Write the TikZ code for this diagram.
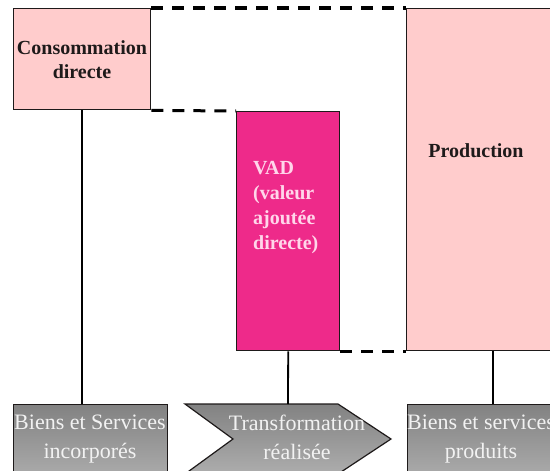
\documentclass[tikz,border=0pt]{standalone}
\usepackage{fontspec}
\setmainfont{Liberation Serif}[
  BoldFont={Liberation Serif Bold},
  ItalicFont={Liberation Serif Italic}]
\definecolor{paleRose}{HTML}{FFCCCC}
\definecolor{vadPink}{HTML}{EE2A8A}
\definecolor{vadText}{HTML}{FFD6EA}
\definecolor{edgeInk}{HTML}{1E1A1A}
\definecolor{shadeTop}{HTML}{828282}
\definecolor{shadeBot}{HTML}{ADADAD}
\definecolor{greyText}{HTML}{F2F2F2}
\begin{document}
\begin{tikzpicture}[x=1pt,y=-1pt,
  pinkbox/.style={draw=edgeInk, line width=1.4pt, fill=paleRose, inner sep=0pt, anchor=north west},
  vadbox/.style={draw=edgeInk, line width=1.4pt, fill=vadPink, inner sep=0pt, anchor=north west},
  greybox/.style={draw=edgeInk, line width=1.2pt, top color=shadeTop, bottom color=shadeBot, inner sep=0pt, anchor=north west},
  boldlabel/.style={inner sep=0pt, align=center, text=edgeInk, font=\fontsize{20}{24}\selectfont\bfseries},
  vadlabel/.style={inner sep=0pt, align=left, text=vadText, anchor=north west, font=\fontsize{20}{25}\selectfont\bfseries},
  greylabel/.style={inner sep=0pt, align=center, text=greyText, font=\fontsize{22}{29}\selectfont},
  dashlink/.style={draw=black, line width=3pt, dash pattern=on 12pt off 9pt},
  link/.style={draw=black, line width=1.8pt}]
\useasboundingbox (0,0) rectangle (550,471);
\clip (0,0) rectangle (550,471);

% upper boxes
\node[pinkbox, minimum width=137pt, minimum height=101pt] (cd) at (13,8) {};
\node[vadbox, minimum width=103pt, minimum height=239pt] (vad) at (236,111) {};
\node[pinkbox, minimum width=172pt, minimum height=342pt] (prod) at (406,8) {};

% dashed guides between the boxes
\draw[dashlink, line width=3.6pt] (cd.north east) -- (prod.north west);
\draw[dashlink] (cd.south east) -- (vad.north west);
\draw[dashlink] (vad.south east) -- (prod.south west);

% lower boxes
\node[greybox, minimum width=154pt, minimum height=75pt] (bsi) at (13,404) {};
\node[greybox, minimum width=170pt, minimum height=75pt] (bsp) at (407,404) {};
\coordinate (chA) at (185,404);
\coordinate (chB) at (338,404);
\coordinate (chTip) at (391,439);
\coordinate (chC) at (338,474);
\coordinate (chD) at (185,474);
\coordinate (chNotch) at (233,439);
\coordinate (transtop) at (288,404);
\path[draw=edgeInk, line width=1.2pt, top color=shadeTop, bottom color=shadeBot]
  (chA) -- (chB) -- (chTip) -- (chC) -- (chD) -- (chNotch) -- cycle;

% vertical connectors
\draw[link] (cd.south) -- (cd.south |- bsi.north);
\draw[link] (vad.south) -- (transtop);
\draw[link] (prod.south) -- (prod.south |- bsp.north);

% labels
\node[boldlabel] (cdtext) at (82,60) {Consommation\\directe};
\node[vadlabel] (vadtext) at (253,161.5) {VAD\\(valeur\\ajoutée\\directe)};
\node[boldlabel, anchor=base] (prodtext) at (476,157) {Production};
\node[greylabel] (bsitext) at (90,439) {Biens et Services\\incorporés};
\node[greylabel] (transtext) at (297,437) {Transformation\\réalisée};
\node[greylabel] (bsptext) at (481,439) {Biens et services\\produits};
\end{tikzpicture}
\end{document}
